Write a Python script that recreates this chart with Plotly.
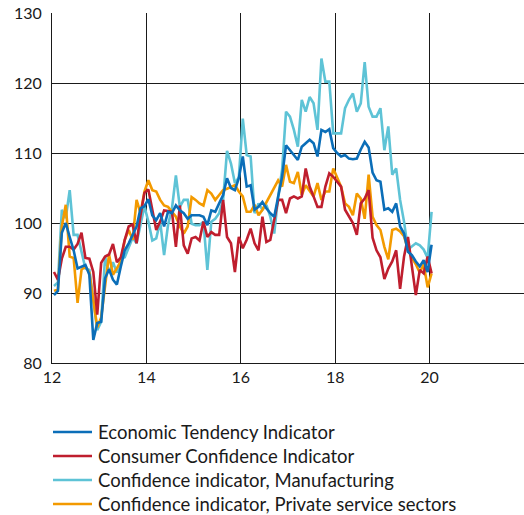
import plotly.graph_objects as go

# Monthly index values, Jan 2012 - Jan 2020 (index, 100 = average)
eti = [89.7, 90.3, 98.6, 100.0, 98.0, 96.1, 93.5, 93.8, 94.0, 92.6, 83.3, 85.7, 85.9, 92.1, 93.4, 91.9, 91.2, 93.8, 96.1, 97.1, 98.3, 99.5, 102.1, 102.4, 103.4,
       101.1, 100.4, 101.4, 99.5, 101.6, 101.4, 102.5, 101.8, 101.4, 100.6, 101.1, 101.1, 101.1, 100.9, 99.7, 101.8, 101.6, 102.8, 104.0, 106.4, 105.0, 104.7,
       106.4, 109.5, 105.2, 105.4, 101.9, 102.3, 103.0, 102.1, 101.4, 100.9, 103.8, 106.6, 111.1, 110.4, 109.7, 109.0, 110.9, 111.4, 111.9, 111.4, 109.5, 113.3, 113.0, 113.4, 110.7, 110.0,
       109.5, 109.7, 109.2, 109.1, 109.2, 110.5, 111.6, 110.8, 107.2, 106.1, 105.9, 101.9, 102.1, 101.6, 102.8, 99.5, 98.5, 95.9, 95.4, 94.5, 93.8, 94.7, 93.0, 96.9]

cci = [93.0, 91.9, 94.9, 96.6, 96.6, 96.2, 97.0, 98.6, 95.0, 94.9, 93.0, 86.9, 94.3, 95.2, 95.5, 97.0, 94.4, 95.1, 97.6, 99.5, 99.8, 97.1, 101.1, 104.3, 104.8,
       102.0, 99.0, 100.2, 101.8, 101.7, 101.6, 96.6, 102.5, 96.8, 95.6, 97.8, 98.0, 97.5, 100.2, 98.0, 98.7, 98.3, 98.3, 103.3, 98.0, 97.1, 93.0,
       98.0, 96.4, 97.6, 99.2, 97.1, 96.1, 100.9, 97.3, 97.6, 100.4, 103.3, 103.3, 101.4, 103.5, 103.8, 103.5, 103.8, 107.8, 105.2, 103.8, 102.3, 102.3, 105.2, 107.1,
       106.6, 105.9, 105.2, 101.9, 101.0, 100.0, 98.3, 102.8, 103.5, 104.7, 97.9, 96.1, 95.1, 92.0, 93.5, 94.5, 96.1, 90.6, 95.2, 98.0, 93.8, 89.7, 93.3, 92.8, 95.2, 92.8]

manufacturing = [91.0, 91.5, 101.9, 100.7, 104.7, 98.3, 98.3, 96.0, 93.5, 93.3, 89.0, 84.7, 85.9, 95.2, 92.9, 94.4, 92.9, 94.9, 95.1, 96.5, 97.9, 97.1, 99.8, 102.4, 100.2,
                 97.5, 97.8, 100.2, 95.4, 99.7, 102.1, 106.8, 102.3, 103.3, 103.3, 99.9, 99.7, 99.7, 100.2, 93.3, 100.2, 100.6, 101.4, 103.3, 110.3, 108.5, 105.7,
                 106.5, 114.9, 109.7, 109.5, 101.4, 102.8, 101.9, 102.6, 100.9, 98.5, 103.8, 107.6, 115.9, 115.2, 113.3, 110.9, 117.6, 115.9, 118.0, 117.1, 113.3, 123.5, 120.2, 120.2, 112.8, 112.8,
                 112.8, 116.4, 117.6, 118.5, 115.9, 117.1, 123.0, 116.6, 115.2, 115.2, 116.4, 110.4, 113.8, 106.9, 107.8, 103.3, 100.2, 96.2, 96.6, 97.1, 96.8, 96.2, 95.0, 101.6]

services = [90.3, 90.5, 99.5, 102.6, 95.2, 95.0, 88.6, 93.3, 93.8, 92.9, 89.0, 85.1, 86.5, 90.8, 95.5, 92.6, 93.5, 94.5, 97.6, 99.0, 97.6, 103.3, 101.4, 104.5, 106.1,
            104.7, 104.5, 103.3, 102.5, 102.3, 101.6, 100.9, 99.5, 98.5, 99.5, 103.7, 103.3, 102.8, 102.5, 104.7, 104.2, 103.3, 104.0, 104.7, 104.9, 105.2, 105.4,
            104.5, 103.8, 101.6, 101.6, 102.6, 101.1, 101.9, 103.0, 104.0, 105.2, 106.1, 105.2, 108.3, 105.9, 105.7, 107.3, 104.0, 105.4, 104.5, 103.8, 105.7, 103.3, 104.5, 104.5,
            107.8, 106.6, 105.2, 102.8, 102.3, 101.1, 104.2, 103.5, 100.6, 106.9, 100.9, 99.7, 99.0, 96.6, 94.8, 99.0, 99.2, 98.8, 98.1, 96.2, 95.0, 94.1, 92.9, 94.1, 90.8, 92.8]

series_names = [
    "Economic Tendency Indicator",
    "Consumer Confidence Indicator",
    "Confidence indicator, Manufacturing",
    "Confidence indicator, Private service sectors",
]
series_colors = ["#0B6EB8", "#BF1E2E", "#5EC3D6", "#F39A00"]
x_ticks = [12, 14, 16, 18, 20]
y_ticks = [80, 90, 100, 110, 120, 130]

# two-digit year axis, each month plotted at its mid-point
start_year = 12
months = [start_year + (i + 0.5) / 12 for i in range(len(eti))]

FONT = "Lato, Carlito, 'Open Sans', sans-serif"
W, H = 524, 515
ML, MR, MT, MB = 52, 0, 13, 152
plot_w, plot_h = W - ML - MR, H - MT - MB


def px_to_paper(px, py):
    return (px - ML) / plot_w, (H - MB - py) / plot_h


fig = go.Figure()
# draw order: manufacturing and services underneath, then CCI, ETI on top
draw_order = [2, 3, 1, 0]
all_series = [eti, cci, manufacturing, services]
for k in draw_order:
    fig.add_trace(go.Scatter(
        x=months, y=all_series[k], mode="lines", name=series_names[k],
        line=dict(color=series_colors[k], width=2.6), showlegend=False,
    ))

# key below the chart: one short coloured line and a label per series
shapes, annotations = [], []
for k, (name, color) in enumerate(zip(series_names, series_colors)):
    row_y = 432 + 24 * k
    x0, y0 = px_to_paper(53, row_y)
    x1, _ = px_to_paper(92, row_y)
    shapes.append(dict(type="line", xref="paper", yref="paper",
                       x0=x0, x1=x1, y0=y0, y1=y0,
                       line=dict(color=color, width=2.6)))
    tx, _ = px_to_paper(96, row_y)
    annotations.append(dict(text=name, xref="paper", yref="paper", x=tx, y=y0,
                            xanchor="left", yanchor="middle", showarrow=False,
                            font=dict(family=FONT, size=18.5, color="#1a1a1a")))

fig.update_layout(
    width=W, height=H,
    margin=dict(l=ML, r=MR, t=MT, b=MB, autoexpand=False),
    paper_bgcolor="white", plot_bgcolor="white",
    font=dict(family=FONT, size=16, color="#1a1a1a"),
    showlegend=False,
    shapes=shapes, annotations=annotations,
)
fig.update_xaxes(
    range=[12, 22], tickvals=x_ticks, ticktext=[str(v) for v in x_ticks],
    showgrid=True, gridcolor="#1a1a1a", gridwidth=1,
    showline=True, linecolor="#1a1a1a", linewidth=1,
    ticks="", zeroline=False, tickfont=dict(size=16),
)
fig.update_yaxes(
    range=[80, 130], tickvals=y_ticks, ticktext=[str(v) for v in y_ticks],
    showgrid=True, gridcolor="#1a1a1a", gridwidth=1,
    showline=True, linecolor="#1a1a1a", linewidth=1,
    ticks="", zeroline=False, tickfont=dict(size=16), ticklabelstandoff=6,
)

fig.write_html("out.html")
